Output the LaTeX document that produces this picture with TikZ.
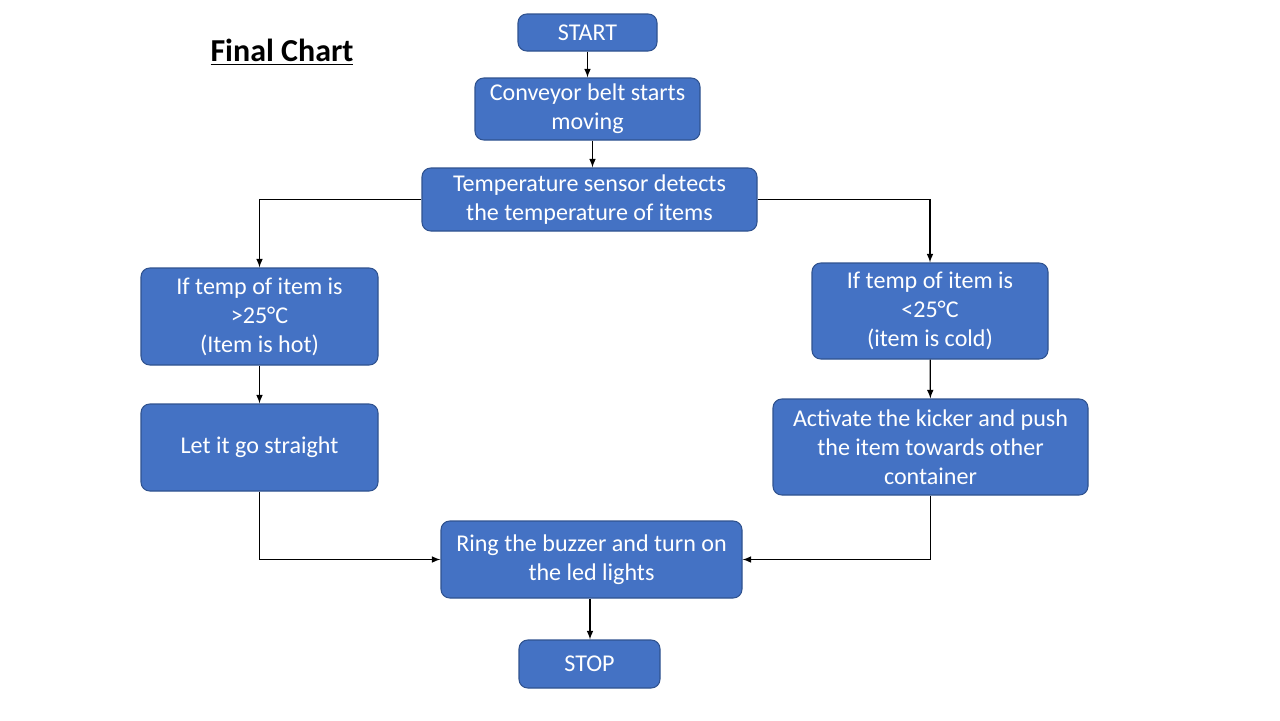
\documentclass[tikz,border=0pt]{standalone}
\usepackage{fontspec}
\setmainfont{Carlito}
\definecolor{boxblue}{HTML}{4472C4}
\definecolor{boxline}{HTML}{2F528F}
\tikzset{
    flowbox/.style={draw=boxline, fill=boxblue, text=white, rounded corners=5pt,
        align=center, inner sep=0pt, line width=0.6pt,
        font=\fontsize{13.7}{16.5}\selectfont},
    flowarrow/.style={-latex, line width=0.7pt}
}
\begin{document}
\begin{tikzpicture}[x=0.02cm, y=-0.02cm]
                    \useasboundingbox (0,0) rectangle (1280,720);
                    \node[font=\fontsize{18.2}{22}\selectfont\bfseries] (title) at (282,52) {\underline{Final Chart}};

                    \node[flowbox, minimum width=139*0.02cm, minimum height=37*0.02cm] (start) at (587.5,32.5) {START};
                    \node[flowbox, minimum width=225*0.02cm, minimum height=62*0.02cm] (belt) at (587.5,109) {Conveyor belt starts\\moving};
                    \node[flowbox, minimum width=335*0.02cm, minimum height=63*0.02cm] (sensor) at (589.5,199.5) {Temperature sensor detects\\the temperature of items};
                    \node[flowbox, minimum width=237*0.02cm, minimum height=97*0.02cm] (hot) at (259.5,316.5) {If temp of item is\\>25°C\\(Item is hot)};
                    \node[flowbox, minimum width=236*0.02cm, minimum height=96*0.02cm] (cold) at (930,311) {If temp of item is\\<25°C\\(item is cold)};
                    \node[flowbox, minimum width=237*0.02cm, minimum height=87*0.02cm] (straight) at (259.5,447.5) {Let it go straight};
                    \node[flowbox, minimum width=315*0.02cm, minimum height=96*0.02cm] (kicker) at (930.5,447) {Activate the kicker and push\\the item towards other\\container};
                    \node[flowbox, minimum width=301*0.02cm, minimum height=77*0.02cm] (buzzer) at (591.5,559.5) {Ring the buzzer and turn on\\the led lights};
                    \node[flowbox, minimum width=141*0.02cm, minimum height=48*0.02cm] (stop) at (589.5,664) {STOP};

                    \draw[flowarrow] (start) -- (belt);
                    \draw[flowarrow] ([xshift=5*0.02cm]belt.south) -- ([xshift=5*0.02cm]belt.south |- sensor.north);
                    \draw[flowarrow] (sensor.west) -| (hot.north);
                    \draw[flowarrow] (sensor.east) -| (cold.north);
                    \draw[flowarrow] (hot) -- (straight);
                    \draw[flowarrow] (cold) -- (kicker);
                    \draw[flowarrow] (straight.south) |- (buzzer.west);
                    \draw[flowarrow] (kicker.south) |- (buzzer.east);
                    \draw[flowarrow] ([xshift=-1.5*0.02cm]buzzer.south) -- ([xshift=-1.5*0.02cm]buzzer.south |- stop.north);
                \end{tikzpicture}
\end{document}
